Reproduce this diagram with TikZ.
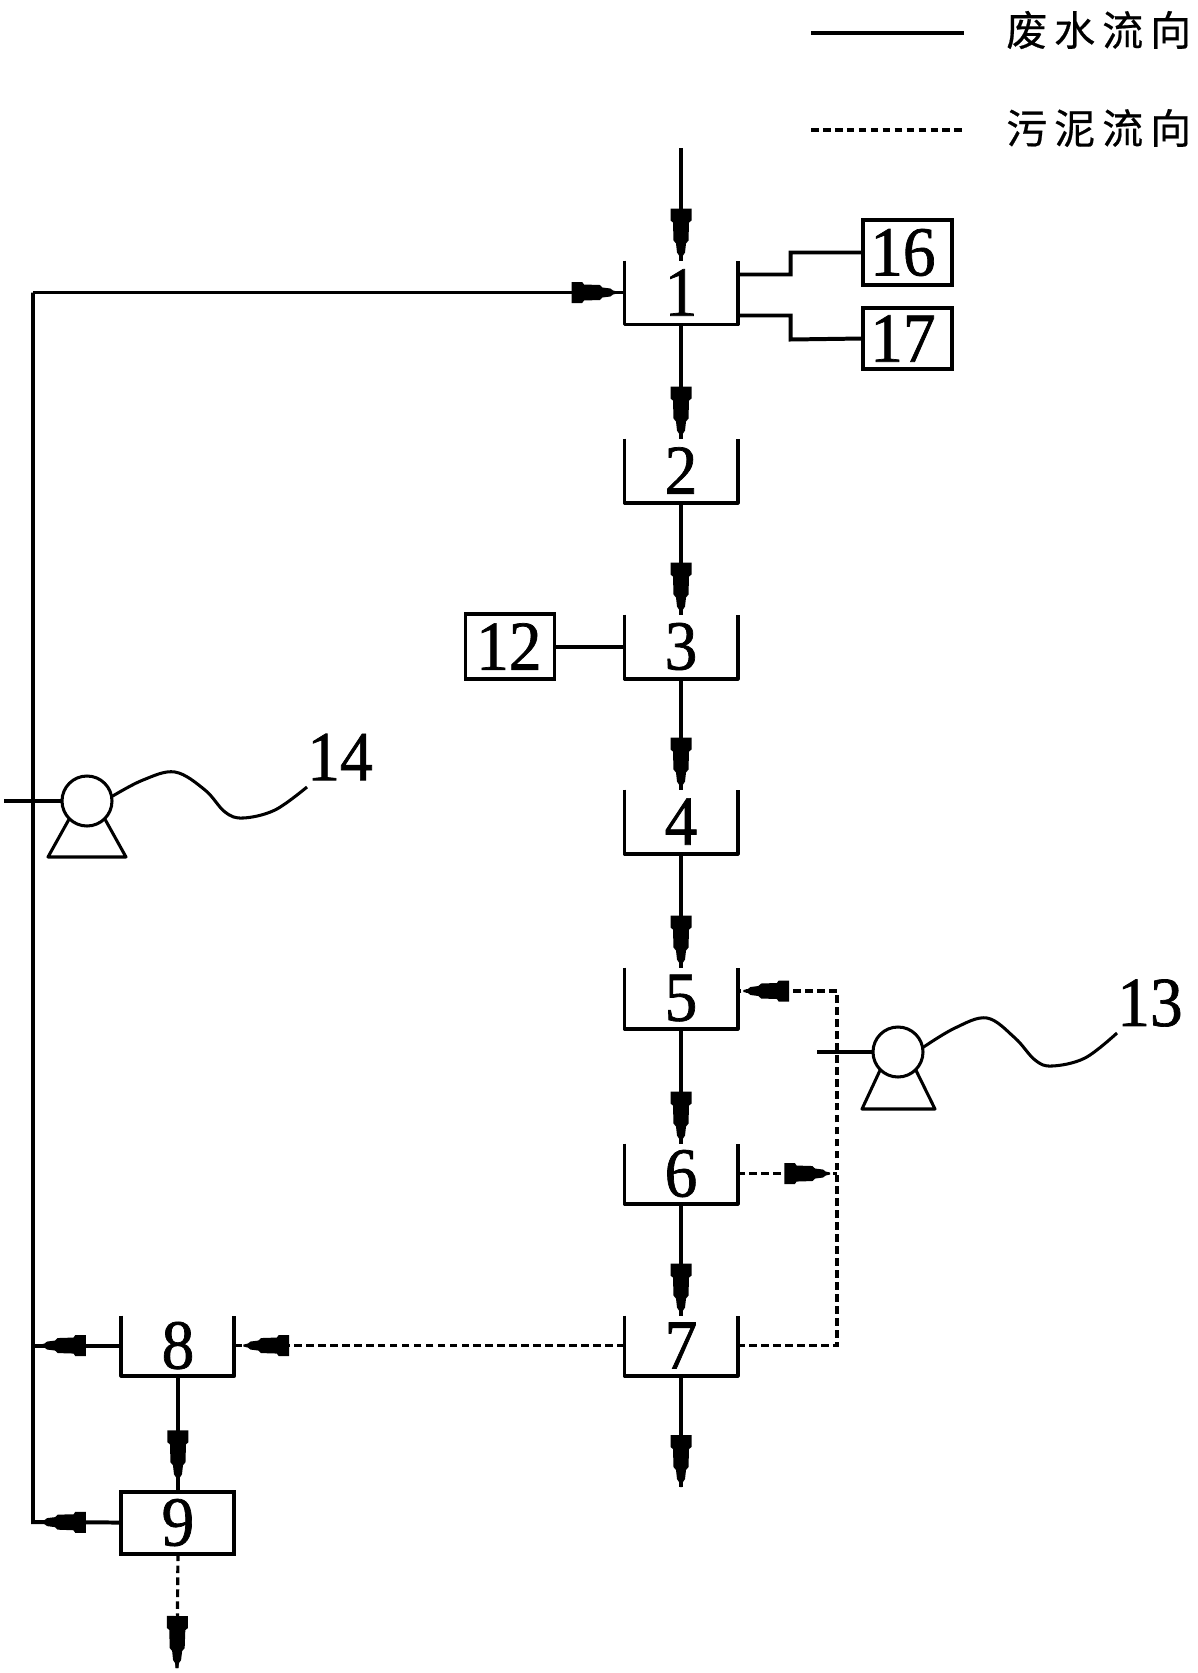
\documentclass[tikz,border=0pt]{standalone}
\usepackage{fontspec}
\usepackage{tikz}
\usetikzlibrary{positioning}
\newfontfamily\numfont[FakeStretch=0.93,FakeBold=1]{Liberation Serif}
\newfontfamily\cjkfont[LetterSpace=17,FakeBold=0.5]{Noto Sans CJK SC}
\tikzset{
    tanque/.style={
        rectangle,
        inner sep=0pt,
        outer sep=0pt,
        minimum width=3.39cm,
        minimum height=1.92cm,
        font=\numfont\fontsize{60}{61}\selectfont
    },
    caixa/.style={tanque, draw, line width=3.4pt, minimum width=2.67cm},
    rotulo/.style={inner sep=0pt, font=\numfont\fontsize{60}{61}\selectfont},
    legenda/.style={inner sep=0pt, anchor=west, font=\cjkfont\fontsize{35}{36}\selectfont},
    fluxo/.style={line width=3.4pt},
    lodo/.style={line width=2.7pt, dash pattern=on 6.5pt off 3.7pt},
    fio/.style={line width=2.6pt},
    bomba/.style={circle, draw, line width=2.6pt, inner sep=0pt, outer sep=0pt, minimum size=1.5cm},
    ponta/.style={sloped, allow upside down},
    pontah/.style={ponta, xscale=0.88},
    seta/.pic={
        \fill[solid] (-52,-10.5) -- (-40,-10.5) -- (-38,-8) -- (-20,-7.5) -- (-17,-5) -- (-8,-4)
            -- (-5,-2) -- (0,-1) -- (0,1) -- (-5,2) -- (-8,4) -- (-17,5) -- (-20,7.5)
            -- (-38,8) -- (-40,10.5) -- (-52,10.5) -- cycle;
    }
}

\begin{document}
\begin{tikzpicture}[x=0.03cm, y=-0.03cm]
        \useasboundingbox (0,0) rectangle (1197,1673);
        \node[tanque] (t1) at (681,292.5) {1};
        \node[tanque, below=3.42cm of t1] (t2) {2};
        \node[tanque, below=3.36cm of t2] (t3) {3};
        \node[tanque, below=3.33cm of t3] (t4) {4};
        \node[tanque, below=3.42cm of t4, minimum height=1.83cm] (t5) {5};
        \node[tanque, below=3.45cm of t5, minimum height=1.8cm] (t6) {6};
        \node[tanque, below=3.36cm of t6, minimum height=1.8cm] (t7) {7};
        \node[tanque, left=11.7cm of t7, minimum height=1.8cm] (t8) {8};
        \node[tanque, draw, line width=3.4pt, below=3.48cm of t8, minimum height=1.86cm] (t9) {9};
        \node[caixa, left=2.1cm of t3, minimum height=1.95cm] (c12) {12\kern2pt};
        \node[caixa, right=3.75cm of t1, yshift=1.2cm, minimum height=1.95cm] (c16) {16\kern7pt};
        \node[caixa, right=3.75cm of t1, yshift=-1.38cm, minimum height=1.83cm] (c17) {17\kern7pt};
        \foreach \n in {t1,t2,t3,t4,t5,t6,t7,t8}
            \draw[fluxo, line join=round] (\n.north west) -- (\n.south west) -- (\n.south east) -- (\n.north east);
        \coordinate (entrada) at (681,148);
        \coordinate (saida7) at (681,1487);
        \coordinate (saida9) at (177,1668);
        \coordinate (retorno) at (33,292.5);
        \coordinate (canto9) at (33,1522);
        \coordinate (sobe) at (837,991);
        \draw[fluxo] (entrada) -- pic[ponta, pos=1] {seta} (t1.north);
        \draw[fluxo] (t1.south) -- pic[ponta, pos=1] {seta} (t2.north);
        \draw[fluxo] (t2.south) -- pic[ponta, pos=1] {seta} (t3.north);
        \draw[fluxo] (t3.south) -- pic[ponta, pos=1] {seta} (t4.north);
        \draw[fluxo] (t4.south) -- pic[ponta, pos=1] {seta} (t5.north);
        \draw[fluxo] (t5.south) -- pic[ponta, pos=1] {seta} (t6.north);
        \draw[fluxo] (t6.south) -- pic[ponta, pos=1] {seta} (t7.north);
        \draw[fluxo] (t7.south) -- pic[ponta, pos=1] {seta} (saida7);
        \draw[fluxo] (t8.south) -- pic[ponta, pos=0.92] {seta} (t9.north);
        \draw[lodo] (t9.south) -- pic[ponta, pos=1] {seta} (saida9);
        \draw[fluxo] (retorno) -- pic[pontah, pos=0.988] {seta} (t1.west);
        \draw[fluxo] (t9.west) -- pic[pontah, pos=0.92] {seta} (canto9) -- (retorno);
        \draw[fluxo] (t8.west) -- pic[pontah, pos=0.92] {seta} (t8.west -| retorno);
        \draw[lodo] (t7.west) -- pic[pontah, pos=0.977] {seta} (t8.east);
        \draw[lodo] (t7.east) -| (sobe) -- pic[pontah, pos=0.94] {seta} (t5.east |- sobe);
        \draw[lodo] (t6.east) -- pic[pontah, pos=0.93] {seta} (t6.east -| sobe);
        \draw[fluxo] (c12) -- (t3.west);
        \draw[fluxo] ([yshift=1.5cm]t1.south east) -| ++(53,-22) -- (c16.west);
        \draw[fluxo] ([yshift=0.27cm]t1.south east) -| ++(53,24) -- (c17.west);
        \node[bomba] (b14) at (87,801) {};
        \node[bomba] (b13) at (898,1052) {};
        \coordinate (e14) at (4,801);
        \coordinate (e13) at (817,1052);
        \draw[fio] (e14) -- (b14.west);
        \draw[fio] (e13) -- (b13.west);
        \draw[fio, line join=round] (b14.-135) -- (48,857) -- (126,857) -- (b14.-45);
        \draw[fio, line join=round] (b13.-135) -- (862,1109) -- (935,1109) -- (b13.-45);
        \node[rotulo] (n14) at (340,757) {14};
        \node[rotulo] (n13) at (1150,1003) {13};
        \draw[fio] plot[smooth, tension=0.6] coordinates {(b14.10) (143,780) (175,772) (205,790) (225,812) (243,818) (275,810) (307,787)};
        \draw[fio] plot[smooth, tension=0.6] coordinates {(b13.10) (955,1028) (987,1018) (1015,1038) (1035,1060) (1052,1066) (1085,1058) (1117,1033)};
        \node[legenda] (l1) at (1006,30) {废水流向};
        \node[legenda] (l2) at (1006,128) {污泥流向};
        \coordinate (l1a) at (811,33);
        \coordinate (l1b) at (964,33);
        \coordinate (l2a) at (811,130);
        \coordinate (l2b) at (964,130);
        \draw[fluxo] (l1a) -- (l1b);
        \draw[lodo] (l2a) -- (l2b);
    \end{tikzpicture}
\end{document}
